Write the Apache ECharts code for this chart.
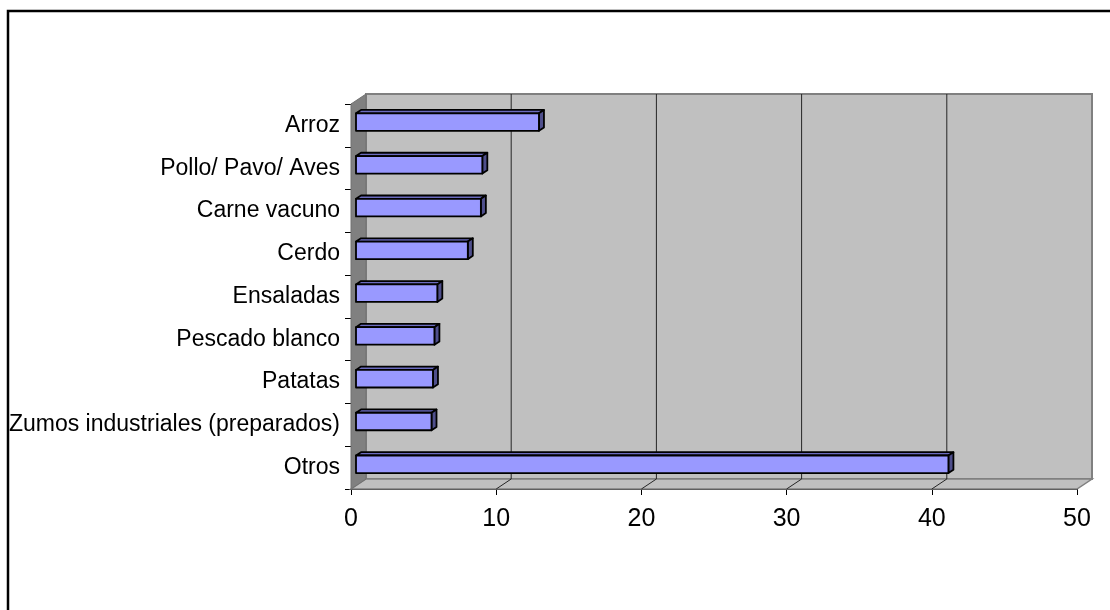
<!DOCTYPE html>
<html>
<head>
<meta charset="utf-8">
<script src="https://cdn.jsdelivr.net/npm/echarts@6/dist/echarts.min.js"></script>
<style>
html,body{margin:0;padding:0;background:#fff;}
#chart{width:1110px;height:610px;}
</style>
</head>
<body>
<div id="chart"></div>
<script>
var categories = ['Arroz','Pollo/ Pavo/ Aves','Carne vacuno','Cerdo','Ensaladas','Pescado blanco','Patatas','Zumos industriales (preparados)','Otros'];
var values = [12.6, 8.7, 8.6, 7.7, 5.6, 5.4, 5.3, 5.2, 40.8];
var xTicks = [0, 10, 20, 30, 40, 50];

var DX = 15, DY = -10; // depth offset of back wall
var FONT = 'Liberation Sans, Arial, sans-serif';

var chart = echarts.init(document.getElementById('chart'));

function wallsRender(params, api) {
  var cs = params.coordSys;
  var x0 = cs.x, y0 = cs.y, w = cs.width, h = cs.height;
  var children = [];
  children.push({type:'rect', shape:{x:x0+DX, y:y0+DY, width:w, height:h},
    style:{fill:'#C0C0C0', stroke:'#808080', lineWidth:2}});
  children.push({type:'polygon', shape:{points:[[x0,y0+h],[x0+w,y0+h],[x0+w+DX,y0+h+DY],[x0+DX,y0+h+DY]]},
    style:{fill:'#C0C0C0', stroke:'#808080', lineWidth:1.5}});
  children.push({type:'polygon', shape:{points:[[x0,y0+h],[x0,y0],[x0+DX,y0+DY],[x0+DX,y0+h+DY]]},
    style:{fill:'#808080', stroke:'#707070', lineWidth:1}});
  for (var i = 1; i < xTicks.length - 1; i++) {
    var px = api.coord([xTicks[i], 0])[0];
    children.push({type:'line', shape:{x1:px+DX, y1:y0+DY, x2:px+DX, y2:y0+h+DY},
      style:{stroke:'#262626', lineWidth:1}});
    children.push({type:'line', shape:{x1:px, y1:y0+h, x2:px+DX, y2:y0+h+DY},
      style:{stroke:'#262626', lineWidth:1}});
  }
  return {type:'group', children:children};
}

function barRender(params, api) {
  var idx = api.value(1);
  var val = api.value(0);
  var s = api.coord([0, idx]);
  var e = api.coord([val, idx]);
  var bh = api.size([0, 1])[1] * 0.41;
  var dx1 = DX / 3, dy1 = DY / 3;
  var x1 = s[0] + dx1, x2 = e[0] + dx1;
  var yt = s[1] + dy1 - bh / 2, yb = s[1] + dy1 + bh / 2;
  var st = {stroke:'#000', lineWidth:1.8, lineJoin:'round'};
  return {type:'group', children:[
    {type:'polygon', shape:{points:[[x1,yt],[x2,yt],[x2+dx1,yt+dy1],[x1+dx1,yt+dy1]]},
      style:Object.assign({fill:'#6B6BBF'}, st)},
    {type:'polygon', shape:{points:[[x2,yt],[x2+dx1,yt+dy1],[x2+dx1,yb+dy1],[x2,yb]]},
      style:Object.assign({fill:'#4F4F8C'}, st)},
    {type:'rect', shape:{x:x1, y:yt, width:x2-x1, height:bh},
      style:Object.assign({fill:'#9999FF'}, st)}
  ]};
}

var barData = values.map(function(v, i){ return [v, i]; });

chart.setOption({
  animation: false,
  graphic: [{type:'rect', shape:{x:8, y:11, width:1120, height:620},
    style:{fill:'none', stroke:'#000', lineWidth:2.5}, z:100}],
  grid: {left:351, top:104, width:726, height:385},
  xAxis: {
    type:'value', min:0, max:50, interval:10,
    axisLine:{show:true, lineStyle:{color:'#000', width:1}},
    axisTick:{show:true, length:6, lineStyle:{color:'#000'}},
    axisLabel:{fontSize:25, color:'#000', fontFamily:FONT, margin:18},
    splitLine:{show:false}
  },
  yAxis: {
    type:'category', data:categories, inverse:true,
    axisLine:{show:true, lineStyle:{color:'#000', width:1}},
    axisTick:{show:true, length:6, lineStyle:{color:'#000'}},
    axisLabel:{fontSize:23, color:'#000', fontFamily:FONT, margin:11},
    splitLine:{show:false}
  },
  series: [
    {type:'custom', renderItem:wallsRender, data:[[0,0]], clip:false, z:1, silent:true},
    {type:'custom', renderItem:barRender, data:barData, clip:false, z:3,
      encode:{x:0, y:1}}
  ]
});
</script>
</body>
</html>
